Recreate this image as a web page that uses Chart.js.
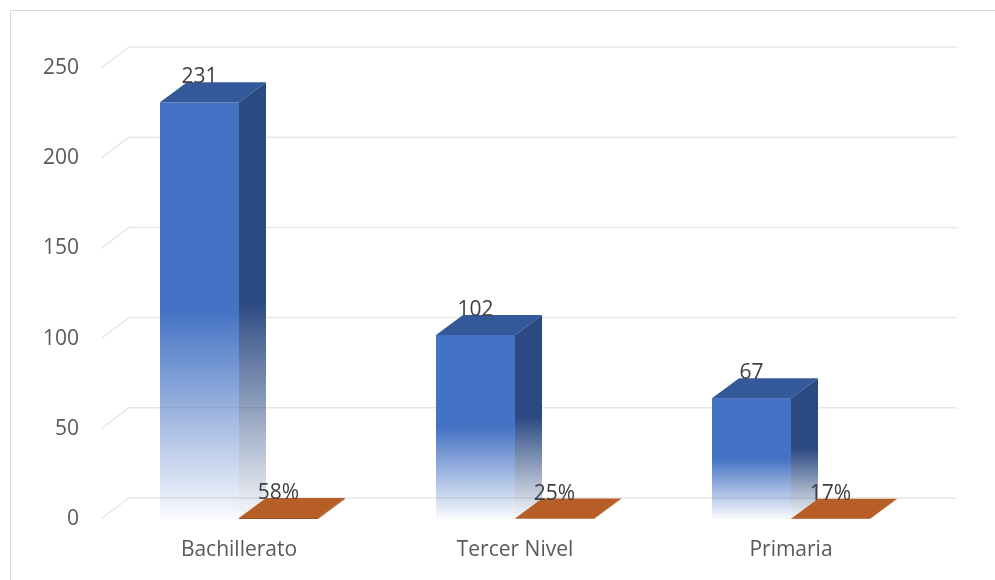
<!DOCTYPE html>
<html>
<head>
<meta charset="utf-8">
<script src="https://cdn.jsdelivr.net/npm/chart.js@4.4.1/dist/chart.umd.min.js"></script>
<style>
  html, body { margin: 0; padding: 0; background: #fff; }
  #wrap { position: relative; width: 995px; height: 580px; overflow: hidden; }
  #frame { position: absolute; left: 10px; top: 10px; width: 1200px; height: 800px;
           border: 1px solid #D9D9D9; box-sizing: border-box; }
  canvas { position: absolute; left: 0; top: 0; }
</style>
</head>
<body>
<div id="wrap">
  <div id="frame"></div>
  <canvas id="c" width="995" height="580"></canvas>
</div>
<script>
// Nivel de instrucción: frecuencia y porcentaje
const categories = ['Bachillerato', 'Tercer Nivel', 'Primaria'];
const counts = [231, 102, 67];
const shares = [0.58, 0.25, 0.17];
const yTickValues = [0, 50, 100, 150, 200, 250];

const FONT = "'Open Sans', 'Liberation Sans', sans-serif";
const BAR_DX = 27, BAR_DY = -20;     // depth of the 3D columns
const GRID_DX = 28, GRID_DY = -21;   // depth of the back wall

const faceColors = [
  { front: [68, 114, 196], side: [43, 74, 130], top: [52, 89, 155], fade: true },
  { front: [160, 82, 30], side: [150, 76, 28], top: [182, 94, 38], fade: false }
];

function rgba(c, a) { return 'rgba(' + c[0] + ',' + c[1] + ',' + c[2] + ',' + a + ')'; }

function fadeGradient(ctx, c, yTop, yBase) {
  const g = ctx.createLinearGradient(0, yTop, 0, yBase);
  g.addColorStop(0, rgba(c, 1));
  g.addColorStop(0.5, rgba(c, 1));
  g.addColorStop(1, rgba(c, 0.03));
  return g;
}

// Back wall gridlines with a short diagonal toward the front plane
const wallGrid = {
  id: 'wallGrid',
  beforeDatasetsDraw(chart) {
    const { ctx, chartArea, scales } = chart;
    ctx.save();
    ctx.strokeStyle = '#E8E8E8';
    ctx.lineWidth = 1.5;
    yTickValues.forEach(v => {
      const y = scales.y.getPixelForValue(v);
      ctx.beginPath();
      ctx.moveTo(chartArea.left, y);
      ctx.lineTo(chartArea.left + GRID_DX, y + GRID_DY);
      ctx.lineTo(chartArea.right + GRID_DX, y + GRID_DY);
      ctx.stroke();
    });
    ctx.restore();
  }
};

// Columns drawn as boxes (front, side, top) from each bar element
const columns3d = {
  id: 'columns3d',
  afterDatasetsDraw(chart) {
    const ctx = chart.ctx;
    ctx.save();
    const n = chart.data.labels.length;
    for (let j = 0; j < n; j++) {
      chart.data.datasets.forEach((ds, i) => {
        const bar = chart.getDatasetMeta(i).data[j];
        const col = faceColors[i];
        const x0 = bar.x - bar.width / 2, x1 = bar.x + bar.width / 2;
        const y = bar.y, base = bar.base;
        // front
        ctx.fillStyle = col.fade ? fadeGradient(ctx, col.front, y, base) : rgba(col.front, 1);
        ctx.fillRect(x0, y, x1 - x0, base - y);
        // side
        ctx.fillStyle = col.fade ? fadeGradient(ctx, col.side, y + BAR_DY, base) : rgba(col.side, 1);
        ctx.beginPath();
        ctx.moveTo(x1, y);
        ctx.lineTo(x1 + BAR_DX, y + BAR_DY);
        ctx.lineTo(x1 + BAR_DX, base + BAR_DY);
        ctx.lineTo(x1, base);
        ctx.closePath();
        ctx.fill();
        // top
        ctx.fillStyle = rgba(col.top, 1);
        ctx.beginPath();
        ctx.moveTo(x0, y);
        ctx.lineTo(x1, y);
        ctx.lineTo(x1 + BAR_DX, y + BAR_DY);
        ctx.lineTo(x0 + BAR_DX, y + BAR_DY);
        ctx.closePath();
        ctx.fill();
      });
    }
    ctx.restore();
  },
  afterDraw(chart) {
    const ctx = chart.ctx;
    ctx.save();
    ctx.fillStyle = '#404040';
    ctx.font = '21px ' + FONT;
    ctx.textAlign = 'center';
    ctx.textBaseline = 'alphabetic';
    chart.data.datasets.forEach((ds, i) => {
      chart.getDatasetMeta(i).data.forEach((bar, j) => {
        const v = ds.data[j];
        const txt = i === 0 ? String(v) : Math.round(v * 100) + '%';
        ctx.fillText(txt, bar.x, bar.y - 19);
      });
    });
    ctx.restore();
  }
};

new Chart(document.getElementById('c'), {
  type: 'bar',
  data: {
    labels: categories,
    datasets: [
      { label: 'Frecuencia', data: counts, backgroundColor: 'rgba(0,0,0,0)', borderWidth: 0 },
      { label: 'Porcentaje', data: shares, backgroundColor: 'rgba(0,0,0,0)', borderWidth: 0 }
    ]
  },
  options: {
    responsive: false,
    devicePixelRatio: 1,
    animation: false,
    layout: { padding: { left: 10, right: 66, top: 68, bottom: 16 } },
    datasets: { bar: { categoryPercentage: 0.5725, barPercentage: 1.0 } },
    plugins: { legend: { display: false }, tooltip: { enabled: false } },
    scales: {
      y: {
        min: 0, max: 250,
        afterFit(s) { s.width = 91; },
        afterBuildTicks(s) { s.ticks = yTickValues.map(v => ({ value: v })); },
        ticks: { color: '#595959', font: { size: 21, family: FONT }, padding: 22 },
        grid: { display: false, drawTicks: false },
        border: { display: false }
      },
      x: {
        afterFit(s) { s.height = 45; },
        ticks: { color: '#595959', font: { size: 21, family: FONT }, padding: 18 },
        grid: { display: false, drawTicks: false },
        border: { display: false }
      }
    }
  },
  plugins: [wallGrid, columns3d]
});
</script>
</body>
</html>
